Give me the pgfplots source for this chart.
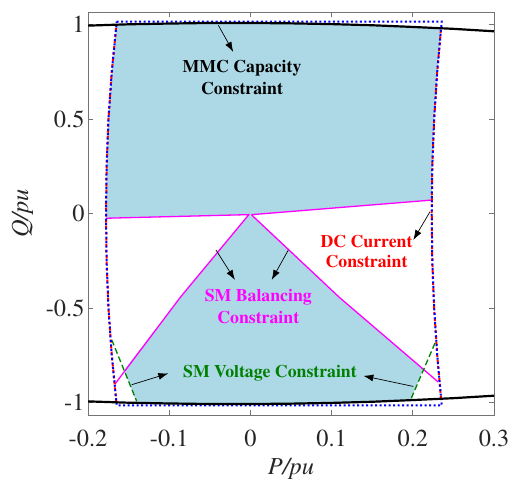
\documentclass[border=0pt]{standalone}
\usepackage[T1]{fontenc}
\usepackage{mathptmx}
\usepackage{pgfplots}
\pgfplotsset{compat=1.18}
\usetikzlibrary{arrows.meta}
\definecolor{fillblue}{rgb}{0.678,0.847,0.902}
\definecolor{mgreen}{rgb}{0,0.5,0}
\definecolor{mag}{rgb}{1,0,1}
\definecolor{rred}{rgb}{1,0,0}
\definecolor{bblue}{rgb}{0,0,1}
\definecolor{axgray}{rgb}{0.45,0.45,0.45}
\definecolor{txtgray}{rgb}{0.15,0.15,0.15}
\begin{document}
\begin{tikzpicture}
\begin{axis}[name=ax, scale only axis, width=406bp, height=403bp,
  xmin=-0.2, xmax=0.3, ymin=-1.065, ymax=1.065,
  xtick={-0.2,-0.1,0,0.1,0.2,0.3}, xticklabels={-0.2,-0.1,0,0.1,0.2,0.3},
  ytick={-1,-0.5,0,0.5,1}, yticklabels={-1,-0.5,0,0.5,1},
  tick align=inside, major tick length=5bp, tick pos=both,
  axis line style={axgray, line width=0.8pt}, tick style={axgray, line width=0.8pt},
  tick label style={font=\fontsize{24.5}{24.5}\selectfont, text=txtgray},
  label style={font=\fontsize{24.5}{24.5}\selectfont, text=txtgray},
  xlabel={\textit{P/pu}}, ylabel={\textit{Q/pu}},
  xticklabel style={yshift=-11bp},
  xlabel style={yshift=-5bp},
  ylabel style={yshift=6bp},
]
% upper feasible region
\addplot[fill=fillblue, draw=none] coordinates {
(-0.1777,-0.025) (-0.1771,0.25) (-0.1748,0.5) (-0.1707,0.75) (-0.165,0.998)
(-0.15,1.000) (-0.1,1.004) (-0.05,1.007) (0,1.007) (0.05,1.005) (0.1,1.001)
(0.15,0.995) (0.2,0.986) (0.2348,0.979)
(0.2301,0.75) (0.2263,0.5) (0.224,0.25) (0.2234,0.071)
(0.002,-0.006) (-0.002,-0.006)};
% lower feasible region
\addplot[fill=fillblue, draw=none] coordinates {
(0.0016,-0.008) (0.11,-0.445) (0.2128,-0.822) (0.1974,-0.986)
(0.15,-0.995) (0.1,-1.001) (0.05,-1.005) (0,-1.007) (-0.05,-1.007) (-0.1,-1.004) (-0.14,-1.0)
(-0.1555,-0.827) (-0.0867,-0.445) (-0.0023,-0.008)};
% SM balancing constraint
\addplot[mag, line width=1.3pt] coordinates {
(-0.1777,-0.025) (-0.002,-0.006) (-0.0023,-0.008) (-0.0867,-0.445) (-0.1667,-0.901)};
\addplot[mag, line width=1.3pt] coordinates {
(0.2234,0.071) (0.002,-0.006) (0.0016,-0.008) (0.11,-0.445) (0.2314,-0.891)};
% DC current constraint
\addplot[rred, line width=2pt, dash pattern=on 3bp off 3bp] coordinates {
(-0.165,-0.998) (-0.1707,-0.75) (-0.1748,-0.5) (-0.1771,-0.25) (-0.1778,0) (-0.1771,0.25) (-0.1748,0.5) (-0.1707,0.75) (-0.165,0.998)};
\addplot[rred, line width=2pt, dash pattern=on 3bp off 3bp] coordinates {
(0.2348,-0.979) (0.2301,-0.75) (0.2263,-0.5) (0.224,-0.25) (0.2233,0) (0.224,0.25) (0.2263,0.5) (0.2301,0.75) (0.2348,0.979)};
% SM voltage constraint
\addplot[mgreen, line width=1.3pt, dash pattern=on 6bp off 3bp] coordinates {(-0.1708,-0.6675) (-0.14,-0.993)};
\addplot[mgreen, line width=1.3pt, dash pattern=on 6bp off 3bp] coordinates {(0.2273,-0.685) (0.1974,-0.984)};
% blue dotted boundary
\addplot[bblue, line width=2pt, dash pattern=on 2bp off 2.5bp] coordinates {
(-0.1646,1.014) (0.2356,1.014) (0.2301,0.75) (0.2263,0.5) (0.224,0.25) (0.2233,0) (0.224,-0.25) (0.2263,-0.5) (0.2301,-0.75) (0.2356,-1.014)
(-0.1646,-1.014) (-0.1707,-0.75) (-0.1748,-0.5) (-0.1771,-0.25) (-0.1778,0) (-0.1771,0.25) (-0.1748,0.5) (-0.1707,0.75) (-0.1646,1.014)};
% MMC capacity constraint
\addplot[black, line width=2.2pt] coordinates {
(-0.2,0.993) (-0.15,1.000) (-0.1,1.004) (-0.05,1.007) (0,1.007) (0.05,1.005) (0.1,1.001) (0.15,0.995) (0.2,0.986) (0.25,0.976) (0.3,0.963)};
\addplot[black, line width=2.2pt] coordinates {
(-0.2,-0.993) (-0.15,-1.000) (-0.1,-1.004) (-0.05,-1.007) (0,-1.007) (0.05,-1.005) (0.1,-1.001) (0.15,-0.995) (0.2,-0.986) (0.25,-0.976) (0.3,-0.963)};
% annotations
\tikzset{ann/.style={-{Latex[length=10bp,width=7bp]}, black, line width=0.7pt}}
\draw[ann] (axis cs:-0.0395,0.995) -- (axis cs:-0.0211,0.854);
\draw[ann] (axis cs:0.2212,0.0095) -- (axis cs:0.2006,-0.140);
\draw[ann] (axis cs:-0.0424,-0.193) -- (axis cs:-0.0190,-0.351);
\draw[ann] (axis cs:0.0467,-0.193) -- (axis cs:0.0262,-0.351);
\draw[ann] (axis cs:-0.1462,-0.905) -- (axis cs:-0.1011,-0.845);
\draw[ann] (axis cs:0.2006,-0.914) -- (axis cs:0.1391,-0.858);
\node[align=center, font=\fontsize{17.8}{21.6}\selectfont\bfseries, text=black] at (axis cs:-0.0103,0.718) {MMC Capacity\\Constraint};
\node[align=center, font=\fontsize{17.8}{20.5}\selectfont\bfseries, text=rred] at (axis cs:0.143,-0.2016) {DC Current\\Constraint};
\node[align=center, font=\fontsize{17.8}{22}\selectfont\bfseries, text=mag] at (axis cs:0.0097,-0.493) {SM Balancing\\Constraint};
\node[font=\fontsize{17.8}{21}\selectfont\bfseries, text=mgreen] at (axis cs:0.0241,-0.843) {SM Voltage Constraint};
\end{axis}
\pgfresetboundingbox
\path ([shift={(-88bp,-64bp)}]ax.south west) rectangle ([shift={(15bp,12bp)}]ax.north east);
\end{tikzpicture}
\end{document}
